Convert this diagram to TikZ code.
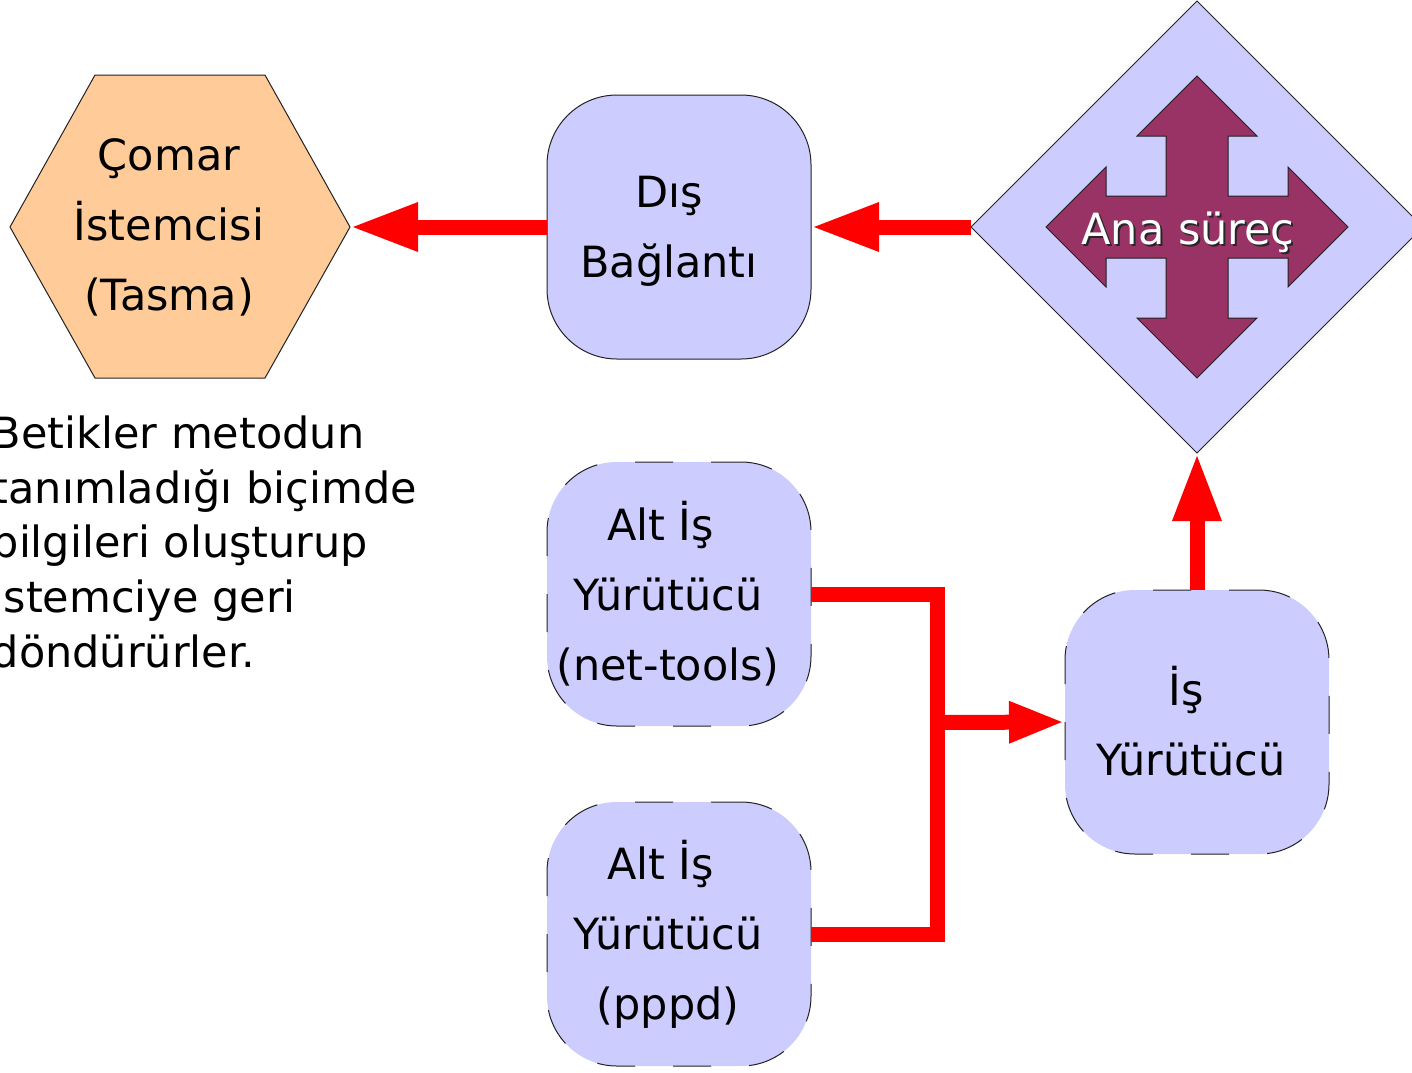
\documentclass[tikz,border=0pt]{standalone}
\usepackage{fontspec}
\setmainfont{DejaVu Sans}
\usetikzlibrary{arrows.meta,shapes.geometric}
\definecolor{lav}{HTML}{CCCCFF}
\definecolor{peach}{HTML}{FFCC99}
\definecolor{plum}{HTML}{993366}
\definecolor{edgec}{HTML}{222222}
\begin{document}
\begin{tikzpicture}[x=1pt,y=-1pt,
  boxtext/.style={font=\fontsize{43}{70}\selectfont, align=center, inner sep=0pt},
  rbox/.style={rectangle, rounded corners=70pt, fill=lav, draw=edgec, line width=1pt,
     minimum width=264pt, minimum height=264pt, inner sep=0pt, outer sep=0pt},
  dbox/.style={rbox, dash pattern=on 38pt off 38pt, dash phase=8pt},
  conn/.style={draw=red, line width=15pt},
  bigtip/.style={-{Triangle[length=68pt,width=45pt]}},
  smalltip/.style={-{Triangle[length=56pt,width=38pt]}},
  outline/.style={draw=edgec, line width=1pt}
]
\useasboundingbox (0,0) rectangle (1412,1072);
\clip (0,0) rectangle (1412,1072);

% hexagon
\draw[outline, fill=peach] (10,227) -- (95,75) -- (265,75) -- (350,227) -- (265,378) -- (95,378) -- cycle;
\coordinate (comarE) at (350,227);
\node[boxtext] (comar) at (169,227) {Çomar\\İstemcisi\\(Tasma)};

% boxes
\node[rbox] (dis) at (679,227) {};
\node[boxtext, yshift=-4pt, xshift=-10pt] (distext) at (dis.center) {Dış\\Bağlantı};
\node[dbox] (nt) at (679,594) {};
\node[boxtext, xshift=-11pt] (nttext) at (nt.center) {Alt İş\hspace*{15pt}\\Yürütücü\\(net-tools)};
\node[dbox] (pp) at (679,934) {};
\node[boxtext, xshift=-11pt] (pptext) at (pp.center) {Alt İş\hspace*{15pt}\\Yürütücü\\(pppd)};
\node[dbox] (is) at (1197,722) {};
\node[boxtext, xshift=-6pt, yshift=1pt] (istext) at (is.center) {İş\hspace*{10pt}\\Yürütücü};

% diamond
\node[diamond, aspect=1, minimum width=452pt, minimum height=452pt, inner sep=0pt,
      outer sep=0pt, fill=lav, outline] (ana) at (1197,227) {};
\begin{scope}[shift={(1197,227)}]
\draw[outline, fill=plum] (0,-151) -- (60,-91) -- (31,-91) -- (31,-31) -- (91,-31) -- (91,-60)
  -- (151,0) -- (91,60) -- (91,31) -- (31,31) -- (31,91) -- (60,91) -- (0,151)
  -- (-60,91) -- (-31,91) -- (-31,31) -- (-91,31) -- (-91,60) -- (-151,0)
  -- (-91,-60) -- (-91,-31) -- (-31,-31) -- (-31,-91) -- (-60,-91) -- cycle;
\end{scope}
\node[anchor=base, inner sep=0pt, font=\fontsize{43}{52}\selectfont, text=black!85] (anashadow) at (1190,246.5) {Ana süreç};
\node[anchor=base, inner sep=0pt, font=\fontsize{43}{52}\selectfont, text=white] (anatext) at (1188,244.5) {Ana süreç};

% note
\node[anchor=north west, inner sep=0pt, align=left, font=\fontsize{43}{54.75}\selectfont] (note) at (-8.5,415.5)
  {Betikler metodun\\tanımladığı biçimde\\bilgileri oluşturup\\istemciye geri\\döndürürler.};

% connectors
\draw[conn, bigtip] (ana.west) -- (dis.east);
\draw[conn, bigtip] (dis.west) -- (comarE);
\draw[conn, bigtip] (is.north) -- (ana.south);
\coordinate (jx) at (937.5,722.5);
\draw[conn] (nt.east) -| (jx) |- (pp.east);
\draw[conn, smalltip] (jx) -- (is.west);
\end{tikzpicture}
\end{document}
